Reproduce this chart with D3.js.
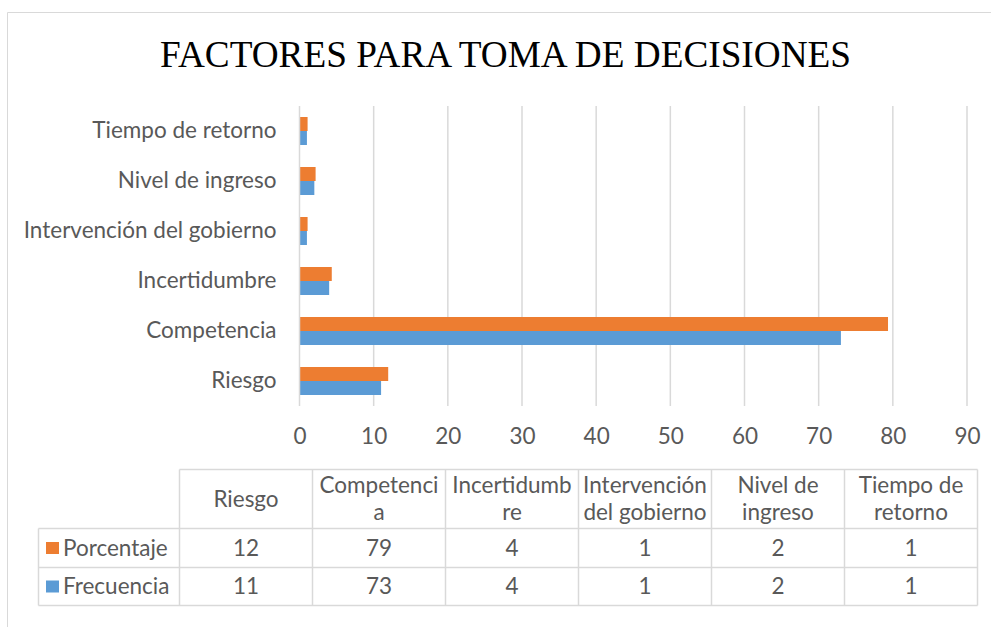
<!DOCTYPE html>
<html>
<head>
<meta charset="utf-8">
<script src="https://cdn.jsdelivr.net/npm/d3@7"></script>
<style>
    body { margin: 0; background: #fff; }
    svg { display: block; }
    text { font-family: Lato, "Open Sans", sans-serif; fill: #595959; }
</style>
</head>
<body>
<div id="chart"></div>
<script>
"use-strict";

// chart data
const categories = ["Riesgo", "Competencia", "Incertidumbre", "Intervención del gobierno", "Nivel de ingreso", "Tiempo de retorno"];
const seriesNames = ["Porcentaje", "Frecuencia"];
const porcentaje = [11.96, 79.35, 4.35, 1.09, 2.17, 1.09];
const frecuencia = [11, 73, 4, 1, 2, 1];
const xTicks = [0, 10, 20, 30, 40, 50, 60, 70, 80, 90];
// header labels of the data table, as wrapped in the original
const tableHeaders = [["Riesgo"], ["Competenci", "a"], ["Incertidumb", "re"], ["Intervención", "del gobierno"], ["Nivel de", "ingreso"], ["Tiempo de", "retorno"]];

const msm = {
    width: 991,
    height: 627,
    plotLeft: 299.5,
    plotRight: 967,
    plotTop: 106,
    plotBottom: 406
}
const colors = { Porcentaje: "#ED7D31", Frecuencia: "#5B9BD5" };
const gridColor = "#d9d9d9";
const fontSize = 22.5;

window.onload = function () {
    let svg = d3.select("#chart")
        .append("svg")
        .attr("width", msm.width)
        .attr("height", msm.height);

    // outer chart frame (cropped on the right)
    svg.append("path")
        .attr("d", "M7.5," + msm.height + "V12.5H" + msm.width)
        .attr("fill", "none")
        .attr("stroke", gridColor);

    // title
    svg.append("text")
        .attr("x", 505.5)
        .attr("y", 67)
        .attr("text-anchor", "middle")
        .attr("textLength", 691)
        .attr("lengthAdjust", "spacingAndGlyphs")
        .style("font-family", "'Liberation Serif', 'Times New Roman', serif")
        .style("font-size", "38px")
        .style("fill", "#000")
        .text("FACTORES PARA TOMA DE DECISIONES");

    let rows = categories.map((c, i) => ({ cat: c, Porcentaje: porcentaje[i], Frecuencia: frecuencia[i] }));

    let xScale = d3.scaleLinear()
        .domain([xTicks[0], xTicks[xTicks.length - 1]])
        .range([msm.plotLeft, msm.plotRight]);

    let yScale = d3.scaleBand()
        .domain(categories.slice().reverse())
        .range([msm.plotTop, msm.plotBottom])
        .paddingInner(0.44)
        .paddingOuter(0.22);

    let ySub = d3.scaleBand()
        .domain(seriesNames)
        .range([0, yScale.bandwidth()]);

    // vertical gridlines
    svg.append("g")
        .selectAll("line")
        .data(xTicks.slice(1))
        .enter()
        .append("line")
        .attr("x1", (d) => xScale(d))
        .attr("x2", (d) => xScale(d))
        .attr("y1", msm.plotTop)
        .attr("y2", msm.plotBottom)
        .attr("stroke", gridColor)
        .attr("stroke-width", 1.5);

    // bars
    let groups = svg.append("g")
        .selectAll("g")
        .data(rows)
        .enter()
        .append("g")
        .attr("transform", (d) => "translate(0," + yScale(d.cat) + ")");

    groups.selectAll("rect")
        .data((d) => seriesNames.map((s) => ({ s: s, v: d[s] })))
        .enter()
        .append("rect")
        .attr("x", xScale(0))
        .attr("y", (d) => ySub(d.s))
        .attr("width", (d) => xScale(d.v) - xScale(0))
        .attr("height", ySub.bandwidth())
        .attr("fill", (d) => colors[d.s]);

    // x axis labels (no line)
    let xAxis = d3.axisBottom(xScale).tickValues(xTicks).tickSize(0).tickPadding(22);
    let gx = svg.append("g")
        .attr("transform", "translate(0," + msm.plotBottom + ")")
        .call(xAxis);
    gx.select(".domain").remove();
    gx.selectAll("text").style("font-size", fontSize + "px").style("font-family", null).style("fill", "#595959");

    // y axis with category labels
    let yAxis = d3.axisLeft(yScale).tickSize(0).tickPadding(23);
    let gy = svg.append("g")
        .attr("transform", "translate(" + msm.plotLeft + ",0)")
        .call(yAxis);
    gy.select(".domain").attr("stroke", gridColor).attr("stroke-width", 1.5)
        .attr("d", "M0," + msm.plotTop + "V" + msm.plotBottom);
    gy.selectAll("text").style("font-size", fontSize + "px").style("font-family", null).style("fill", "#595959");

    drawTable(svg);
}

// data table under the chart
function drawTable(svg) {
    let tbl = { left: 38.5, colLeft: 179.5, right: 977.5, top: 469.5, headBottom: 528.5, rowBottom: [567.5, 605.5] };
    let colX = d3.scaleBand()
        .domain(categories)
        .range([tbl.colLeft, tbl.right]);

    let g = svg.append("g");
    let line = (x1, y1, x2, y2) => g.append("line")
        .attr("x1", x1).attr("y1", y1).attr("x2", x2).attr("y2", y2)
        .attr("stroke", gridColor).attr("stroke-width", 1.5);

    // grid
    line(tbl.colLeft, tbl.top, tbl.right, tbl.top);
    line(tbl.left, tbl.headBottom, tbl.right, tbl.headBottom);
    tbl.rowBottom.forEach((y) => line(tbl.left, y, tbl.right, y));
    line(tbl.left, tbl.headBottom, tbl.left, tbl.rowBottom[1]);
    categories.forEach((c) => line(colX(c), tbl.top, colX(c), tbl.rowBottom[1]));
    line(tbl.right, tbl.top, tbl.right, tbl.rowBottom[1]);

    // headers
    categories.forEach((c, i) => {
        let lines = tableHeaders[i];
        let cy = (tbl.top + tbl.headBottom) / 2;
        let y0 = cy - (lines.length - 1) * 27 / 2;
        lines.forEach((t, j) => {
            g.append("text")
                .attr("x", colX(c) + colX.bandwidth() / 2)
                .attr("y", y0 + j * 27)
                .attr("dy", "0.35em")
                .attr("text-anchor", "middle")
                .style("font-size", fontSize + "px")
                .text(t);
        });
    });

    // rows with legend keys
    let series = [porcentaje, frecuencia];
    seriesNames.forEach((s, r) => {
        let yTop = r === 0 ? tbl.headBottom : tbl.rowBottom[0];
        let cy = (yTop + tbl.rowBottom[r]) / 2;
        g.append("rect")
            .attr("x", 46)
            .attr("y", cy - 6)
            .attr("width", 13)
            .attr("height", 12)
            .attr("fill", colors[s]);
        g.append("text")
            .attr("x", 63)
            .attr("y", cy)
            .attr("dy", "0.35em")
            .style("font-size", fontSize + "px")
            .text(s);
        categories.forEach((c, i) => {
            g.append("text")
                .attr("x", colX(c) + colX.bandwidth() / 2)
                .attr("y", cy)
                .attr("dy", "0.35em")
                .attr("text-anchor", "middle")
                .style("font-size", fontSize + "px")
                .text(d3.format(".0f")(series[r][i]));
        });
    });
}
</script>
</body>
</html>
